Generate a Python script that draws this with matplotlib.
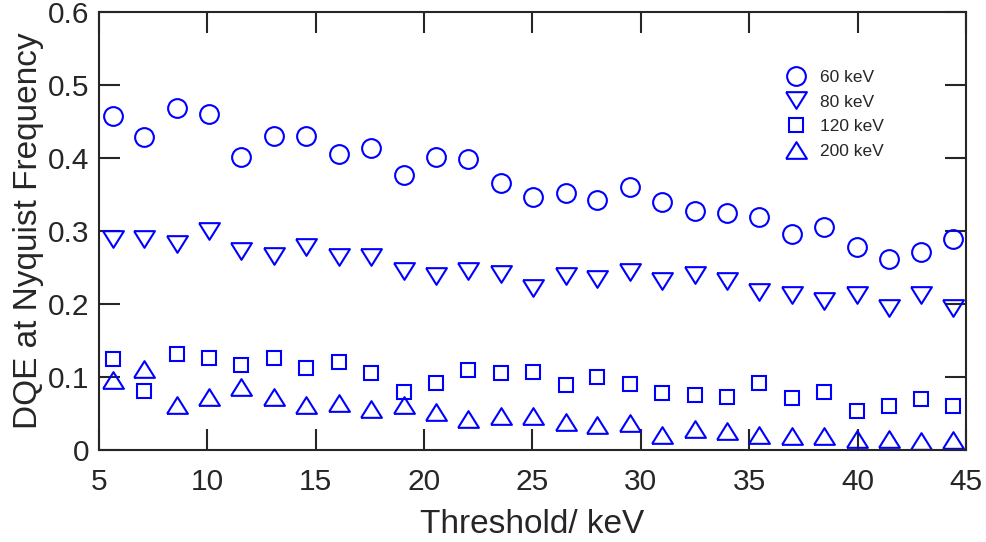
import matplotlib
matplotlib.use("Agg")
import matplotlib.pyplot as plt
import numpy as np

plt.rcParams['font.family'] = ['Liberation Sans', 'DejaVu Sans']

# Energy threshold (keV)
threshold = [5.63, 7.09, 8.61, 10.09, 11.57, 13.07, 14.54, 16.07, 17.53,
             19.07, 20.53, 22.01, 23.53, 25.01, 26.53, 27.99, 29.51, 30.99,
             32.51, 33.97, 35.43, 36.97, 38.43, 39.95, 41.43, 42.94, 44.42]

# DQE at the Nyquist frequency for each tube voltage
dqe_60 = [0.457, 0.429, 0.468, 0.460, 0.402, 0.430, 0.430, 0.406, 0.414,
          0.377, 0.401, 0.398, 0.366, 0.346, 0.352, 0.343, 0.360, 0.340,
          0.328, 0.325, 0.319, 0.296, 0.305, 0.278, 0.262, 0.271, 0.289]
dqe_80 = [0.289, 0.289, 0.282, 0.300, 0.272, 0.266, 0.278, 0.265, 0.265,
          0.245, 0.238, 0.245, 0.241, 0.222, 0.238, 0.234, 0.244, 0.231,
          0.240, 0.231, 0.217, 0.213, 0.204, 0.213, 0.194, 0.213, 0.195]
dqe_120 = [0.124, 0.081, 0.132, 0.126, 0.116, 0.126, 0.113, 0.121, 0.105,
           0.080, 0.092, 0.110, 0.105, 0.107, 0.089, 0.100, 0.090, 0.078,
           0.076, 0.073, 0.092, 0.071, 0.080, 0.054, 0.060, 0.070, 0.060]
dqe_200 = [0.096, 0.111, 0.061, 0.072, 0.086, 0.073, 0.061, 0.065, 0.056,
           0.061, 0.052, 0.042, 0.047, 0.046, 0.039, 0.034, 0.037, 0.021,
           0.029, 0.026, 0.021, 0.019, 0.019, 0.015, 0.015, 0.013, 0.014]

labels = ['60 keV', '80 keV', '120 keV', '200 keV']
x_ticks = [5, 10, 15, 20, 25, 30, 35, 40, 45]
y_ticks = [0, 0.1, 0.2, 0.3, 0.4, 0.5, 0.6]

# wide, flat triangles
tri_down = [(-1.0, 0.8), (1.0, 0.8), (0.0, -0.8), (-1.0, 0.8)]
tri_up = [(-1.0, -0.8), (1.0, -0.8), (0.0, 0.8), (-1.0, -0.8)]

ink = '#262626'
blue = '#0000ff'

fig = plt.figure(figsize=(9.87, 5.42), dpi=100)
ax = fig.add_axes([0.1003, 0.1697, 0.8784, 0.8082])

series = [
    (dqe_60, 'o', 13.5),
    (dqe_80, tri_down, 15),
    (dqe_120, 's', 10.5),
    (dqe_200, tri_up, 15),
]
for (vals, mk, ms), lab in zip(series, labels):
    ax.plot(threshold, vals, linestyle='none', marker=mk, markersize=ms,
            markerfacecolor='none', markeredgecolor=blue,
            markeredgewidth=1.5, label=lab)

ax.set_xlim(5, 45)
ax.set_ylim(0, 0.6)
ax.set_xticks(x_ticks)
ax.set_yticks(y_ticks)
ax.set_xticklabels([f'{v:g}' for v in x_ticks])
ax.set_yticklabels([f'{v:g}' for v in y_ticks])

for s in ax.spines.values():
    s.set_linewidth(1.5)
    s.set_color(ink)

ax.tick_params(axis='both', which='major', direction='in', length=15,
               width=1.5, color=ink, labelcolor=ink, labelsize=21.5,
               top=True, right=True)
ax.tick_params(axis='x', pad=13)
ax.tick_params(axis='y', pad=7)

ax.set_xlabel('Threshold/ keV', fontsize=24, color=ink, labelpad=9)
ax.set_ylabel('DQE at Nyquist Frequency', fontsize=24, color=ink, labelpad=3)

leg = ax.legend(loc='upper left', bbox_to_anchor=(0.778, 0.896),
                frameon=False, fontsize=12.5, handlelength=1.2,
                handletextpad=0.75, labelspacing=0.55, borderpad=0.2)
for t in leg.get_texts():
    t.set_color(ink)

fig.savefig('out.png', dpi=100)
